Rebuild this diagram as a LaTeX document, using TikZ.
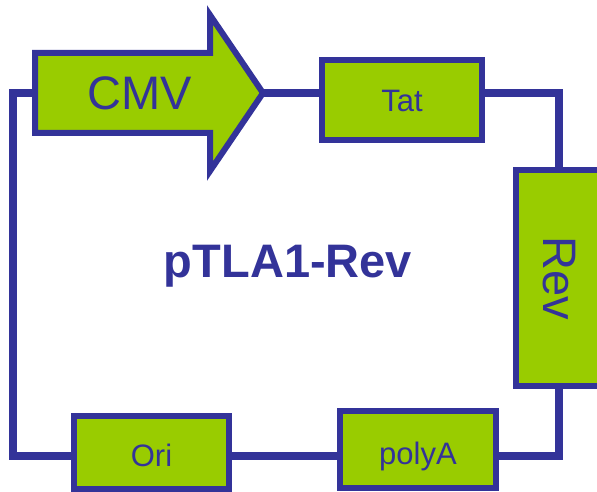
\documentclass[tikz,border=0pt]{standalone}
\usepackage{fontspec}
\setmainfont{Liberation Sans}
\definecolor{genegreen}{HTML}{99CC00}
\definecolor{geneblue}{HTML}{333399}
\newcommand{\bigtxt}{\fontsize{47}{56}\selectfont}
\newcommand{\smalltxt}{\fontsize{31}{37}\selectfont}

\begin{document}
\begin{tikzpicture}[x=1pt,y=-1pt,
		gene/.style={draw=geneblue,fill=genegreen,line width=6pt,inner sep=0pt,text=geneblue,font=\smalltxt},
		wire/.style={draw=geneblue,line width=7.5pt}]
	\useasboundingbox (0,0) rectangle (597,492);
	\clip (0,0) rectangle (597,492);
	% corners of the loop
	\coordinate (tl) at (13,93);
	\coordinate (bl) at (13,456);
	\coordinate (cmvtail) at (35,93);
	\coordinate (cmvtip) at (263,93);
	% promoter arrow
	\draw[geneblue,fill=genegreen,line width=6pt] (35,53) -- (210,53) -- (210,15) -- (cmvtip)
		-- (210,171) -- (210,133) -- (35,133) -- cycle;
	\node[text=geneblue,font=\bigtxt,anchor=base] (cmv) at (140,110) {CMV};
	% genes
	\node[gene,minimum width=160pt,minimum height=80pt,text height=24pt,text depth=0pt] (tat) at (402,100) {Tat};
	\node[gene,font=\bigtxt,rotate=-90,minimum width=216pt,minimum height=86pt] (rev) at (559,278) {Rev};
	\node[gene,minimum width=156pt,minimum height=77pt,text height=29pt,text depth=0pt] (polya) at (418,449.5) {polyA};
	\node[gene,minimum width=155pt,minimum height=73pt,text height=27pt,text depth=0pt] (ori) at (151.5,452.5) {Ori};
	\node[text=geneblue,font=\bigtxt\bfseries,anchor=base] (title) at (288,277) {pTLA1-Rev};
	% backbone
	\draw[wire] (ori.west |- bl) -- (bl) -- (tl) -- (cmvtail);
	\draw[wire] (cmvtip) -- (cmvtip -| tat.west);
	\draw[wire] (tat.east |- tl) -| (rev.west);
	\draw[wire] (rev.east) |- (polya.east |- bl);
	\draw[wire] (polya.west |- bl) -- (ori.east |- bl);
\end{tikzpicture}
\end{document}
